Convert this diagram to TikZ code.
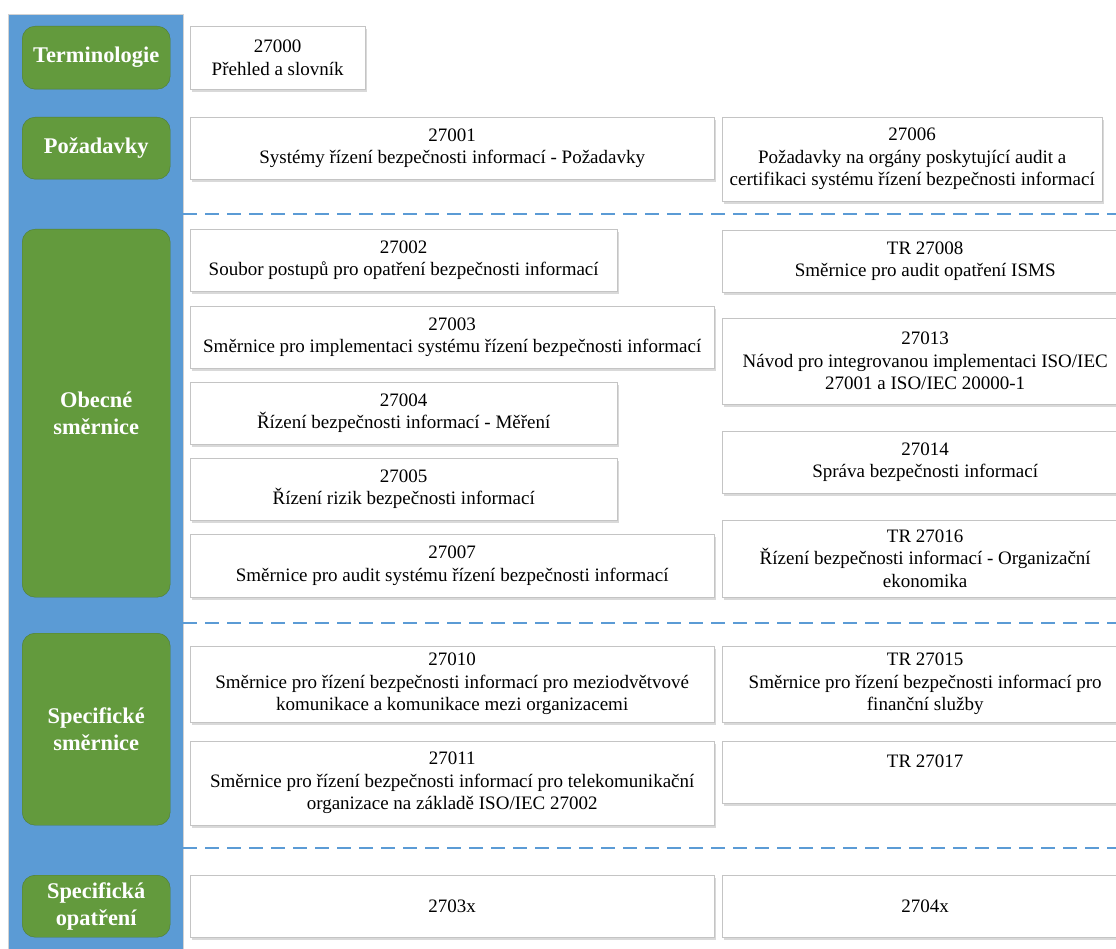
\documentclass[tikz,border=0pt]{standalone}
\usepackage{fontspec}
\setmainfont{Liberation Serif}
\usepackage{xcolor}
\usepackage{tikz}
\usetikzlibrary{shapes.geometric, positioning, shadows, calc}
\definecolor{barblue}{RGB}{91,155,213}
\definecolor{catgreen}{RGB}{99,154,61}
\definecolor{catedge}{RGB}{80,124,50}
\definecolor{boxedge}{RGB}{196,196,196}
\tikzstyle{category} = [rectangle, draw=catedge, fill=catgreen, rounded corners=13pt, text=white, font=\bfseries\fontsize{22.4}{27}\selectfont, align=center, minimum width=148pt, inner sep=0pt, anchor=north west]
\tikzstyle{norm} = [rectangle, draw=boxedge, fill=white, drop shadow={shadow xshift=1.5pt, shadow yshift=-3pt, opacity=0.3}, font=\fontsize{19}{22.5}\selectfont, align=center, inner sep=0pt, anchor=north west, minimum height=62pt]
\tikzstyle{leftwide} = [norm, minimum width=524pt]
\tikzstyle{leftshort} = [norm, minimum width=427pt]
\tikzstyle{rightcol} = [norm, minimum width=406pt]
\tikzstyle{divider} = [draw=barblue, line width=1.5pt, dash pattern=on 14pt off 8pt]

\begin{document}
\begin{tikzpicture}[x=1pt, y=-1pt]
        \useasboundingbox (0,0) rectangle (1116,949);
        \fill [barblue, draw=gray!35] (8,14) rectangle (183,952);

        \node [category, minimum height=63pt] (term) at (22,26) {Terminologie};
        \node [category, minimum height=62pt] (pozad) at (22,117) {Požadavky};
        \node [category, minimum height=368pt] (obecne) at (22,229) {Obecné\\směrnice};
        \node [category, minimum height=192pt] (specsm) at (22,633) {Specifické\\směrnice};
        \node [category, minimum height=62pt] (specop) at (22,875) {Specifická\\opatření};

        \draw [divider] (183,214) -- (1116,214);
        \draw [divider] (183,623) -- (1116,623);
        \draw [divider] (183,848) -- (1116,848);

        \node [norm, minimum width=175pt, minimum height=63pt] (n27000) at (190,26) {27000\\Přehled a slovník};
        \node [leftwide] (n27001) at (190,117) {27001\\Systémy řízení bezpečnosti informací - Požadavky};
        \node [norm, minimum width=380pt, minimum height=84pt] (n27006) at (722,117) {27006\\Požadavky na orgány poskytující audit a\\certifikaci systému řízení bezpečnosti informací};

        \node [leftshort] (n27002) at (190,229) {27002\\Soubor postupů pro opatření bezpečnosti informací};
        \node [leftwide] (n27003) at (190,306) {27003\\Směrnice pro implementaci systému řízení bezpečnosti informací};
        \node [leftshort] (n27004) at (190,382) {27004\\Řízení bezpečnosti informací - Měření};
        \node [leftshort] (n27005) at (190,458) {27005\\Řízení rizik bezpečnosti informací};
        \node [leftwide, minimum height=63pt] (n27007) at (190,534) {27007\\Směrnice pro audit systému řízení bezpečnosti informací};

        \node [rightcol] (tr27008) at (722,230) {TR 27008\\Směrnice pro audit opatření ISMS};
        \node [rightcol, minimum height=86pt] (n27013) at (722,318) {27013\\Návod pro integrovanou implementaci ISO/IEC\\27001 a ISO/IEC 20000-1};
        \node [rightcol] (n27014) at (722,431) {27014\\Správa bezpečnosti informací};
        \node [rightcol, minimum height=77pt] (tr27016) at (722,520) {TR 27016\\Řízení bezpečnosti informací - Organizační\\ekonomika};

        \node [leftwide, minimum height=76pt] (n27010) at (190,646) {27010\\Směrnice pro řízení bezpečnosti informací pro meziodvětvové\\komunikace a komunikace mezi organizacemi};
        \node [leftwide, minimum height=84pt] (n27011) at (190,741) {27011\\Směrnice pro řízení bezpečnosti informací pro telekomunikační\\organizace na základě ISO/IEC 27002};
        \node [rightcol, minimum height=76pt] (tr27015) at (722,646) {TR 27015\\Směrnice pro řízení bezpečnosti informací pro\\finanční služby};
        \node [rightcol] (tr27017) at (722,741) {TR 27017\\\mbox{}};

        \node [leftwide] (n2703x) at (190,875) {2703x};
        \node [rightcol] (n2704x) at (722,875) {2704x};
    \end{tikzpicture}
\end{document}
